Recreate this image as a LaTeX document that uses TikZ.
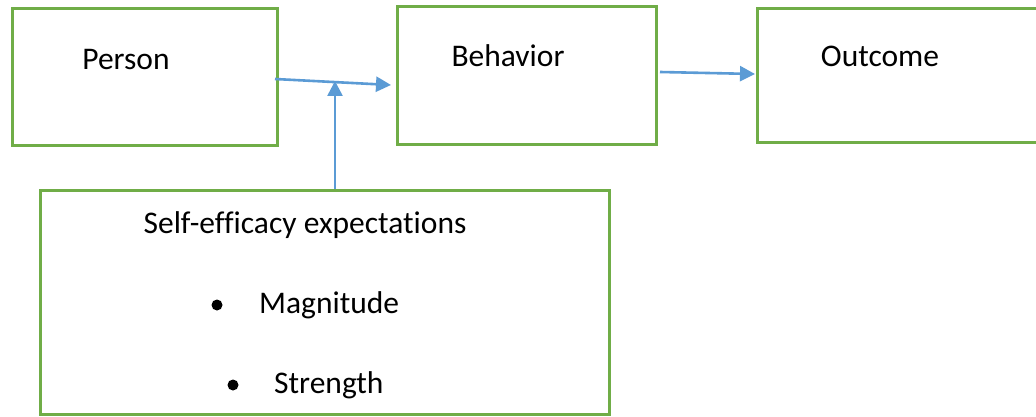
\documentclass[tikz,border=0pt]{standalone}
\usepackage{fontspec}
\setmainfont{Carlito}[Ligatures={NoCommon}]
\usetikzlibrary{arrows.meta}
\definecolor{boxgreen}{HTML}{70AD47}
\definecolor{arrowblue}{HTML}{5B9BD5}
\begin{document}
\begin{tikzpicture}[x=1pt,y=-1pt,
  box/.style={draw=boxgreen,line width=3pt},
  lbl/.style={font=\fontsize{31.5}{38}\selectfont,inner sep=0pt,anchor=base},
  conn/.style={draw=arrowblue,line width=2.6pt,-{Triangle[length=15pt,width=15pt]}}]
\useasboundingbox (0,0) rectangle (1036,417);
\fill[white] (0,0) rectangle (1036,417);
\draw[box] (12,9) rectangle (277,146);
\draw[box] (397,7) rectangle (656,145);
\draw[box] (757,9) rectangle (1050,143);
\draw[box] (40,190) rectangle (609,414);
\node[lbl] (person) at (126,70) {Person};
\node[lbl] (behavior) at (508,67) {Behavior};
\node[lbl] (outcome) at (880,67) {Outcome};
\node[lbl] (self) at (305,233) {Self-efficacy expectations};
\node[lbl,anchor=base west] (mag) at (259,313) {Magnitude};
\node[lbl,anchor=base west] (str) at (274,393) {Strength};
\fill (217,305) circle (5.5);
\fill (233,385) circle (5.5);
\coordinate (a1) at (275,79);
\coordinate (b1) at (391,85);
\coordinate (a2) at (335,189);
\coordinate (b2) at (335,81);
\coordinate (a3) at (660,72);
\coordinate (b3) at (755,74);
\draw[conn] (a1) -- (b1);
\draw[conn] (a2) -- (b2);
\draw[conn] (a3) -- (b3);
\end{tikzpicture}
\end{document}
